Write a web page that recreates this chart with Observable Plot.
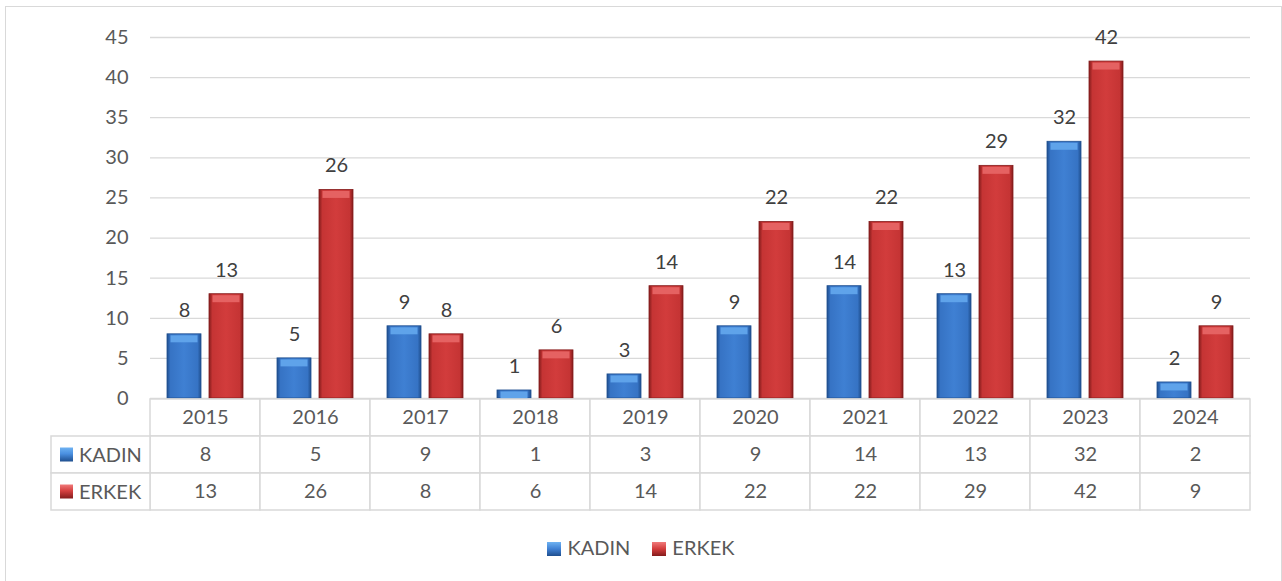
<!DOCTYPE html>
<html><head><meta charset="utf-8">
<script src="https://cdn.jsdelivr.net/npm/d3@7"></script>
<script src="https://cdn.jsdelivr.net/npm/@observablehq/plot@0.6"></script>
<style>
body{margin:0;background:#fff;font-family:Lato,"Open Sans",sans-serif;}
#wrap{position:relative;width:1282px;height:581px;overflow:hidden;}
#frame{position:absolute;left:5px;top:6px;width:1277px;height:590px;border:1.5px solid #d9d9d9;box-sizing:border-box;}
#p1,#p2{position:absolute;left:0;}
#p1{top:0}
#p2{top:398px}
#legend{position:absolute;top:535px;left:0;width:1282px;text-align:center;font-size:20px;color:#595959;}
.sw{display:inline-block;width:14px;height:14px;vertical-align:-1px;margin-right:6px;}
.li{display:inline-block;margin:0 11px;}
</style></head>
<body>
<svg width="0" height="0" style="position:absolute">
<defs>
<linearGradient id="gBlue" x1="0" x2="1" y1="0" y2="0">
<stop offset="0" stop-color="#1f4f8f"/><stop offset="0.1" stop-color="#3673c4"/><stop offset="0.5" stop-color="#3f80d3"/><stop offset="0.9" stop-color="#3673c4"/><stop offset="1" stop-color="#1f4f8f"/>
</linearGradient>
<linearGradient id="gRed" x1="0" x2="1" y1="0" y2="0">
<stop offset="0" stop-color="#841c1c"/><stop offset="0.1" stop-color="#c53434"/><stop offset="0.5" stop-color="#d23c3c"/><stop offset="0.9" stop-color="#c53434"/><stop offset="1" stop-color="#841c1c"/>
</linearGradient>
<linearGradient id="sBlue" x1="0" x2="0" y1="0" y2="1">
<stop offset="0" stop-color="#6eb2f2"/><stop offset="0.45" stop-color="#4a8fe0"/><stop offset="1" stop-color="#1f4f8f"/>
</linearGradient>
<linearGradient id="sRed" x1="0" x2="0" y1="0" y2="1">
<stop offset="0" stop-color="#f07a7a"/><stop offset="0.45" stop-color="#d54040"/><stop offset="1" stop-color="#841c1c"/>
</linearGradient>
</defs></svg>
<div id="wrap">
<div id="frame"></div>
<div id="p1"></div>
<div id="p2"></div>
<div id="legend"><span class="li"><span class="sw" style="background:linear-gradient(#6eb2f2,#3f80d3 50%,#1f4f8f)"></span>KADIN</span><span class="li"><span class="sw" style="background:linear-gradient(#f07a7a,#d23c3c 50%,#841c1c)"></span>ERKEK</span></div>
</div>
<script>
const years = ["2015","2016","2017","2018","2019","2020","2021","2022","2023","2024"];
const series = ["KADIN","ERKEK"];
const kadin = [8,5,9,1,3,9,14,13,32,2];
const erkek = [13,26,8,6,14,22,22,29,42,9];
const yTicks = [0,5,10,15,20,25,30,35,40,45];

const data = years.flatMap((y,i)=>[
  {year:y, sex:"KADIN", value:kadin[i]},
  {year:y, sex:"ERKEK", value:erkek[i]}
]);
const kData = data.filter(d=>d.sex==="KADIN");
const eData = data.filter(d=>d.sex==="ERKEK");

const chart = Plot.plot({
  width:1282, height:400, marginLeft:148, marginRight:30, marginTop:37, marginBottom:2,
  style:{fontFamily:"Lato, 'Open Sans', sans-serif", fontSize:"20px", background:"transparent", overflow:"visible"},
  fx:{domain:years, padding:0, axis:null},
  x:{domain:series, paddingInner:0.186, paddingOuter:0.377, axis:null},
  y:{domain:[0,45], axis:null},
  marks:[
    Plot.gridY(yTicks, {stroke:"#d9d9d9", strokeOpacity:1, strokeWidth:1.3}),
    Plot.axisY(yTicks, {tickSize:0, tickPadding:22, fontSize:20, fill:"#595959", label:null, tickFormat:d=>String(d)}),
    Plot.barY(kData, {fx:"year", x:"sex", y:"value", fill:"url(#gBlue)", stroke:"#1f4f8f", strokeWidth:0.8}),
    Plot.barY(eData, {fx:"year", x:"sex", y:"value", fill:"url(#gRed)", stroke:"#841c1c", strokeWidth:0.8}),
    Plot.tickY(kData, {fx:"year", x:"sex", y:"value", stroke:"#5fa3ea", strokeWidth:7, dy:4.5, inset:3.5}),
    Plot.tickY(eData, {fx:"year", x:"sex", y:"value", stroke:"#e56262", strokeWidth:7, dy:4.5, inset:3.5}),
    Plot.text(data, {fx:"year", x:"sex", y:"value", text:"value", dy:-24, fill:"#404040", fontSize:20})
  ]
});
document.getElementById("p1").appendChild(chart);

const rows = ["year", ...series];
const tableData = years.flatMap((y,i)=>[
  {year:y, row:"year", text:y},
  {year:y, row:"KADIN", text:String(kadin[i])},
  {year:y, row:"ERKEK", text:String(erkek[i])}
]);
const table = Plot.plot({
  width:1282, height:113, marginLeft:148, marginRight:30, marginTop:1, marginBottom:1,
  style:{fontFamily:"Lato, 'Open Sans', sans-serif", fontSize:"20px", background:"transparent", overflow:"visible"},
  x:{domain:years, padding:0, axis:null},
  y:{domain:rows, padding:0, axis:null},
  marks:[
    Plot.cell(tableData, {x:"year", y:"row", fill:"white", stroke:"#d9d9d9", strokeWidth:1.5, inset:0}),
    Plot.text(tableData, {x:"year", y:"row", text:"text", fill:"#595959", fontSize:20})
  ]
});
document.getElementById("p2").appendChild(table);

// left label column of the data table
const ys = table.scale("y");
const xs = table.scale("x");
const svg = d3.select(table);
const left = 51, right = xs.apply(years[0]);
const grads = {KADIN:"url(#sBlue)", ERKEK:"url(#sRed)"};
series.forEach(s=>{
  const y0 = ys.apply(s), bw = ys.bandwidth;
  svg.append("rect").attr("x",left).attr("y",y0).attr("width",right-left).attr("height",bw)
    .attr("fill","white").attr("stroke","#d9d9d9").attr("stroke-width",1.5);
  svg.append("rect").attr("x",left+9).attr("y",y0+bw/2-7).attr("width",13).attr("height",14)
    .attr("fill",grads[s]);
  svg.append("text").attr("x",left+28).attr("y",y0+bw/2).attr("dy","0.35em")
    .attr("text-anchor","start").attr("fill","#595959").attr("font-size",20).text(s);
});
</script>
</body></html>
